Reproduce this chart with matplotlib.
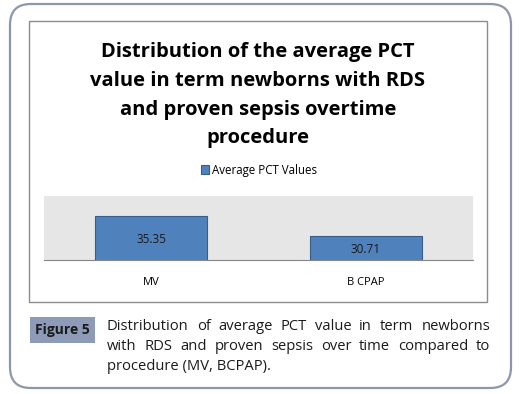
import matplotlib.pyplot as plt
from matplotlib.patches import FancyBboxPatch, Rectangle

# datos de la grafica
categorias = ['MV', 'B CPAP']
valores = [35.35, 30.71]
serie = 'Average PCT Values'
titulo = 'Distribution of the average PCT\nvalue in term newborns with RDS\nand proven sepsis overtime\nprocedure'
etiqueta_fig = 'Figure 5'
lineas_pie = ['Distribution of average PCT value in term newborns',
              'with RDS and proven sepsis over time compared to',
              'procedure (MV, BCPAP).']

W, H = 519, 394
fig = plt.figure(figsize=(W / 100, H / 100), dpi=100)
plt.rcParams['font.family'] = ['Open Sans', 'DejaVu Sans']

def fx(px):
    return px / W

def fy(py):
    return 1 - py / H

# marco redondeado exterior
marco = FancyBboxPatch((fx(10), fy(388)), fx(501), (384) / H,
                       boxstyle='round,pad=0,rounding_size=0.04',
                       transform=fig.transFigure, facecolor='white',
                       edgecolor='#8d97ab', linewidth=1.6, mutation_aspect=W / H,
                       zorder=-10)
fig.patches.append(marco)

# marco del grafico
fig.patches.append(Rectangle((fx(29), fy(302)), fx(458), (281) / H,
                             transform=fig.transFigure, facecolor='white',
                             edgecolor='#8c8c8c', linewidth=1.0, zorder=-9))

fig.text(fx(258), fy(95), titulo, ha='center', va='center', fontsize=14.5,
         fontweight='bold', linespacing=1.6, color='black')

ax = fig.add_axes([fx(44), fy(260), fx(429), 64 / H])
x = range(len(categorias))
barras = ax.bar(x, valores, width=0.52, color='#4f81bd', edgecolor='#385d8a',
                linewidth=0.8, bottom=0, label=serie)
ax.set_ylim(25, 40)
ax.set_xlim(-0.5, 1.5)
ax.set_facecolor('#e6e6e6')
for s in ['top', 'right', 'left']:
    ax.spines[s].set_visible(False)
ax.spines['bottom'].set_color('#868686')
ax.set_yticks([])
ax.set_xticks(list(x))
ax.set_xticklabels(categorias, fontsize=8, color='black')
ax.tick_params(axis='x', length=0, pad=12)
for b, v in zip(barras, valores):
    ax.text(b.get_x() + b.get_width() / 2, (v + 25) / 2 - 0.3, f'{v:.2f}',
            ha='center', va='center', fontsize=8.5, color='#1a1a1a')

fig.legend(handles=[barras], labels=[serie], loc='center',
           bbox_to_anchor=(fx(259), fy(170)), frameon=False, fontsize=8.3,
           handlelength=0.7, handleheight=0.7, handletextpad=0.3)

# pie de figura
fig.text(fx(62.5), fy(330), etiqueta_fig, ha='center', va='center', fontsize=10,
         fontweight='bold', color='#1a1a1a',
         bbox=dict(boxstyle='square,pad=0.4', facecolor='#8d9bb8', edgecolor='none'))

fig.canvas.draw()
rend = fig.canvas.get_renderer()
x0, x1 = 107, 490
ys = [327, 347, 366]
for i, (linea, yy) in enumerate(zip(lineas_pie, ys)):
    if i < len(lineas_pie) - 1:
        palabras = linea.split(' ')
        tt = [fig.text(0, fy(yy), p, fontsize=10.6, va='center', ha='left', color='#1a1a1a')
              for p in palabras]
        anchos = [t.get_window_extent(rend).width for t in tt]
        hueco = (x1 - x0 - sum(anchos)) / (len(palabras) - 1)
        pos = x0
        for t, w in zip(tt, anchos):
            t.set_x(fx(pos))
            pos += w + hueco
    else:
        fig.text(fx(x0), fy(yy), linea, fontsize=10.6, va='center', ha='left', color='#1a1a1a')

fig.savefig('out.png', dpi=100)
